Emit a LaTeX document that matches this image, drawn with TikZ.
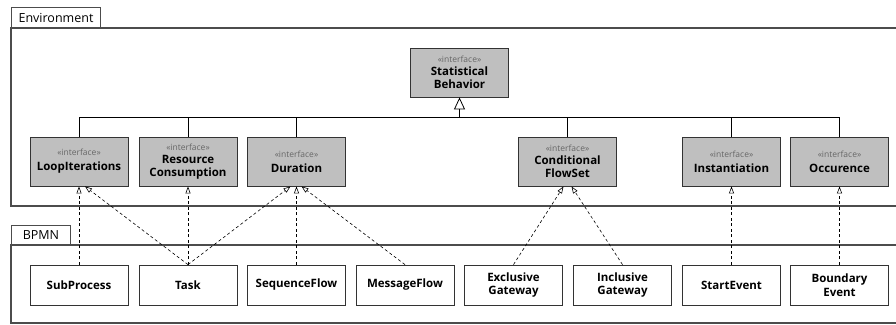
\documentclass[tikz,border=0pt]{standalone}
\usepackage{fontspec}
\setmainfont{Open Sans}
\usetikzlibrary{arrows.meta}

\newcommand{\stereo}{{\mdseries\fontsize{8.5}{9}\selectfont\color{black!60}«interface»}}

\begin{document}
\begin{tikzpicture}[x=1pt,y=-1pt,
  iface/.style={draw=black!80,fill=black!25,line width=0.8pt,minimum width=98pt,minimum height=49pt,
    inner sep=0pt,align=center,font=\bfseries\fontsize{11.5}{15}\selectfont},
  elem/.style={draw=black!80,fill=white,line width=0.8pt,minimum width=98pt,minimum height=40pt,
    inner sep=0pt,align=center,font=\bfseries\fontsize{11.5}{15}\selectfont},
  frametab/.style={draw=black!70,line width=1pt,anchor=north west,inner sep=0pt,align=center,
    font=\fontsize{12.5}{13}\selectfont},
  frameline/.style={draw=black!70,line width=1.2pt},
  general/.style={-{Triangle[open,width=11pt,length=12pt]},line width=0.8pt},
  realize/.style={-{Triangle[open,width=5pt,length=7pt]},dash pattern=on 3pt off 2.5pt,line width=0.6pt}]

 \useasboundingbox (0,0) rectangle (896,324);

 \node[frametab,minimum width=89pt,minimum height=21pt] (envtab) at (11,7) {Environment};
 \draw[frameline] (900,28) -- (11,28) -- (11,206) -- (900,206);
 \node[frametab,minimum width=59pt,minimum height=20pt] (bpmntab) at (11,225) {BPMN};
 \draw[frameline] (900,245) -- (11,245) -- (11,323) -- (900,323);

 \node[iface] (stat) at (459.5,72.5) {\stereo\\[-2pt]Statistical\\[-1.5pt]Behavior};

 \node[iface] (loop) at (79,161.5) {\stereo\\LoopIterations};
 \node[iface] (resource) at (188,161.5) {\stereo\\[-2pt]Resource\\[-1.5pt]Consumption};
 \node[iface] (duration) at (296.5,161.5) {\stereo\\Duration};
 \node[iface] (cond) at (567.5,161.5) {\stereo\\[-2pt]Conditional\\[-1.5pt]FlowSet};
 \node[iface] (inst) at (731.5,161.5) {\stereo\\Instantiation};
 \node[iface] (occ) at (839.5,161.5) {\stereo\\Occurence};

 \coordinate (busleft) at (79,117);
 \coordinate (busright) at (839.5,117);
 \coordinate (busmid) at (459.5,117);
 \draw[line width=0.8pt] (busleft) -- (busright);
 \foreach \n in {loop,resource,duration,cond,inst,occ}
   \draw[line width=0.8pt] (\n.north) -- (\n.north |- busleft);
 \draw[general] (busmid) -- (stat.south);

 \node[elem] (sub) at (79,285) {SubProcess};
 \node[elem] (task) at (188,285) {Task};
 \node[elem] (seq) at (296.5,285) {SequenceFlow};
 \node[elem] (msg) at (405,285) {MessageFlow};
 \node[elem] (excl) at (513.5,285) {Exclusive\\[-1.5pt]Gateway};
 \node[elem] (incl) at (622.5,285) {Inclusive\\[-1.5pt]Gateway};
 \node[elem] (start) at (731.5,285) {StartEvent};
 \node[elem] (bound) at (839.5,285) {Boundary\\[-1.5pt]Event};

 \draw[realize] (sub.north) -- (loop.south);
 \draw[realize] (task.north) -- ([xshift=6pt]loop.south);
 \draw[realize] (task.north) -- (resource.south);
 \draw[realize] (task.north) -- ([xshift=-6pt]duration.south);
 \draw[realize] (seq.north) -- (duration.south);
 \draw[realize] (msg.north) -- ([xshift=5pt]duration.south);
 \draw[realize] (excl.north) -- ([xshift=-4pt]cond.south);
 \draw[realize] (incl.north) -- ([xshift=4pt]cond.south);
 \draw[realize] (start.north) -- (inst.south);
 \draw[realize] (bound.north) -- (occ.south);
\end{tikzpicture}
\end{document}
